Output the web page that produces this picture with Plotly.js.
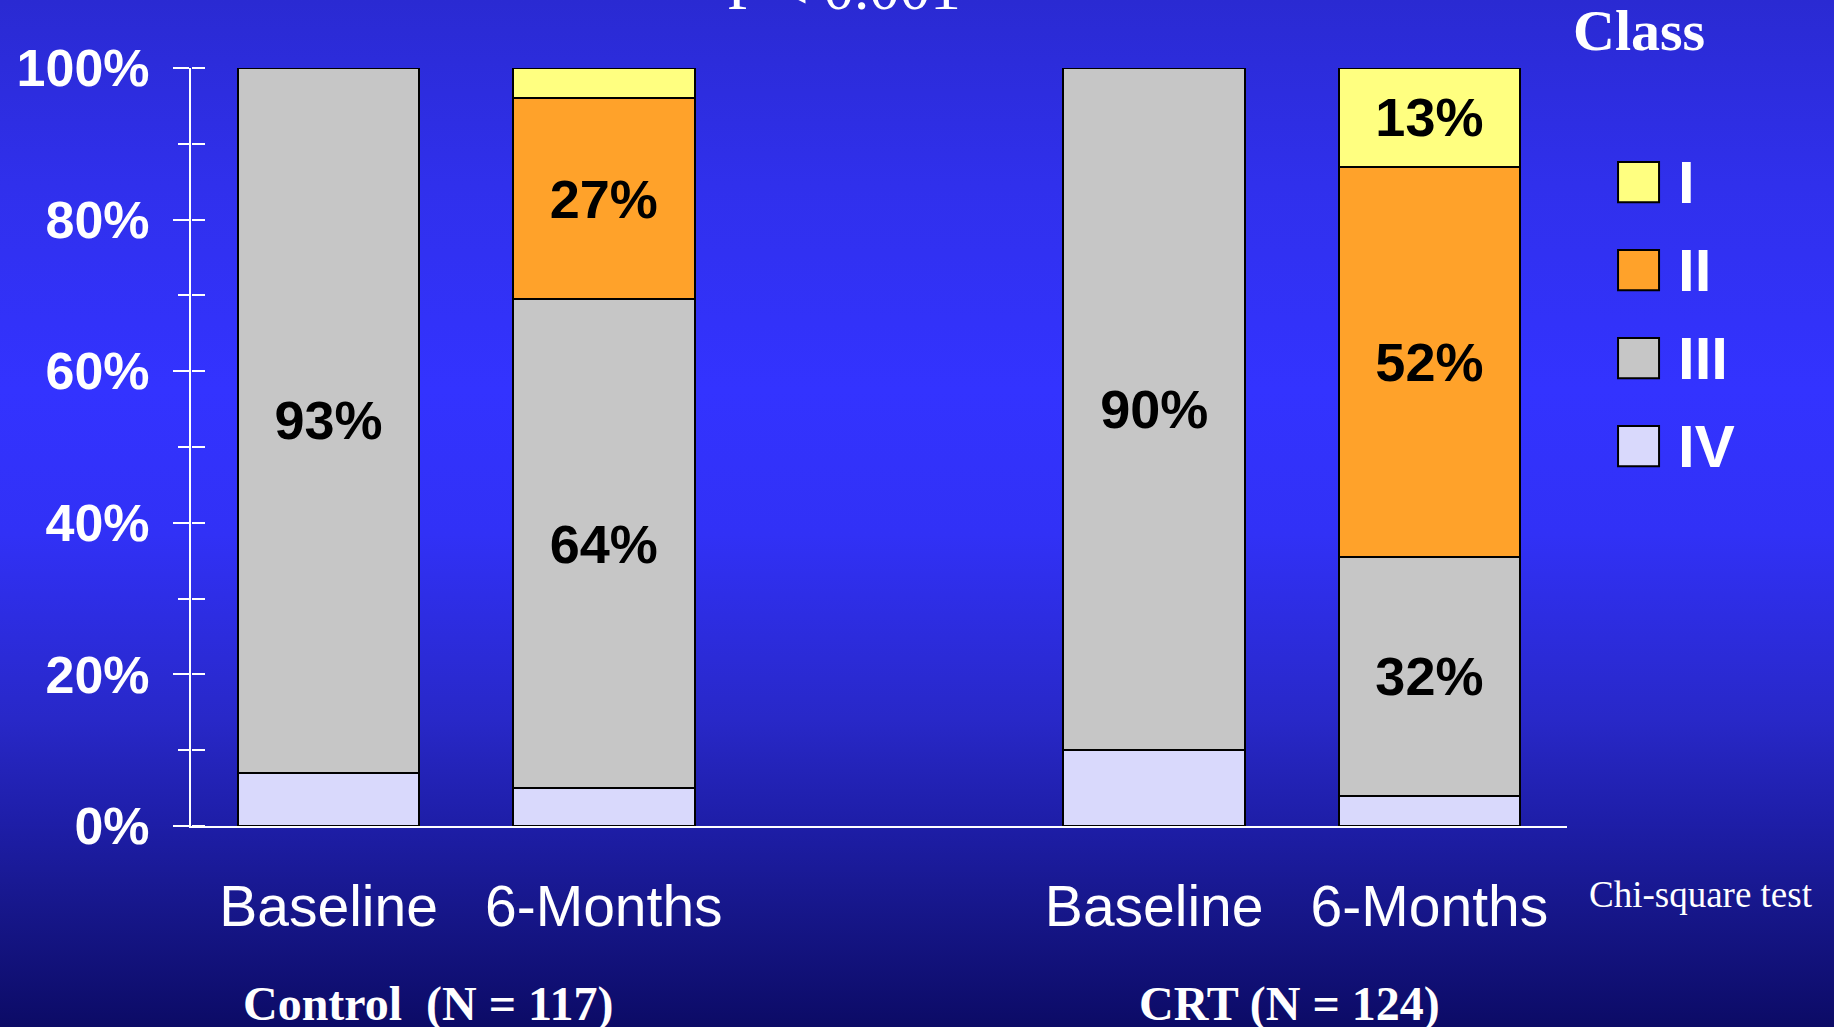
<!DOCTYPE html>
<html>
<head>
<meta charset="utf-8">
<script src="https://cdn.plot.ly/plotly-3.0.1.min.js"></script>
<style>
  html, body { margin: 0; padding: 0; }
  body {
    width: 1834px; height: 1027px; overflow: hidden;
    background: linear-gradient(to bottom, #2a2ad2 0%, #3030ec 18%, #3333ff 38%, #3131f6 52%, #2828c8 70%, #1e1ea8 80%, #17178c 88%, #0c0b66 100%);
  }
  #chart { width: 1834px; height: 1027px; }
</style>
</head>
<body>
<div id="chart"></div>
<script>
// ---- data ----
const groups = ['Control  (N = 117)', 'CRT (N = 124)'];
const timepoints = ['Baseline', '6-Months'];
const categories = ['Baseline', '6-Months', 'Baseline', '6-Months'];
const seriesNames = ['IV', 'III', 'II', 'I'];
const classIV  = [7, 5, 10, 4];
const classIII = [93, 64.5, 90, 31.5];
const classII  = [0, 26.5, 0, 51.5];
const classI   = [0, 4, 0, 13];
const labelsIV  = ['', '', '', ''];
const labelsIII = ['93%', '64%', '90%', '32%'];
const labelsII  = ['', '27%', '', '52%'];
const labelsI   = ['', '', '', '13%'];
const yTickVals = [0, 20, 40, 60, 80, 100];
const yTickText = ['0%', '20%', '40%', '60%', '80%', '100%'];

// ---- styling ----
const colors = { 'IV': '#d9d9fc', 'III': '#c6c6c6', 'II': '#ffa22a', 'I': '#ffff80' };
const seriesValues = { 'IV': classIV, 'III': classIII, 'II': classII, 'I': classI };
const seriesLabels = { 'IV': labelsIV, 'III': labelsIII, 'II': labelsII, 'I': labelsI };

// x positions: groups separated by an empty slot
const xPos = categories.map((c, i) => Math.floor(i / timepoints.length) * (timepoints.length + 1) + (i % timepoints.length));

const traces = seriesNames.map(name => ({
  type: 'bar',
  name: name,
  x: xPos,
  y: seriesValues[name],
  text: seriesLabels[name],
  textposition: 'inside',
  insidetextanchor: 'middle',
  textangle: 0,
  constraintext: 'none',
  textfont: { family: 'Liberation Sans, Arial, sans-serif', size: 54, color: '#000000', weight: 'bold' },
  width: 0.66,
  marker: { color: colors[name], line: { color: '#000000', width: 2 } },
  hoverinfo: 'none',
  showlegend: false
}));
// empty helper trace so the inner tick axis is drawn
traces.push({ type: 'scatter', x: [null], y: [null], yaxis: 'y2', mode: 'markers', showlegend: false, hoverinfo: 'none' });

// custom legend (top = class I)
const shapes = [];
const annotations = [];
const legendOrder = seriesNames.slice().reverse();
legendOrder.forEach((name, i) => {
  const yTop = 0.876 - i * 0.1161;
  shapes.push({
    type: 'rect', xref: 'paper', yref: 'paper',
    x0: 1.0371, x1: 1.0669, y0: yTop - 0.053, y1: yTop,
    fillcolor: colors[name], line: { color: '#000000', width: 2 }
  });
  annotations.push({
    xref: 'paper', yref: 'paper', x: 1.0790, y: yTop - 0.0265,
    xanchor: 'left', yanchor: 'middle', showarrow: false,
    text: name,
    font: { family: 'Liberation Sans, Arial, sans-serif', size: 60, color: '#ffffff', weight: 'bold' }
  });
});

annotations.push({
  xref: 'paper', yref: 'paper', x: 1.0523, y: 1.050, xanchor: 'center', yanchor: 'middle',
  showarrow: false, text: 'Class',
  font: { family: 'Liberation Serif, Times New Roman, serif', size: 58, color: '#ffffff', weight: 'bold' }
});
annotations.push({
  xref: 'paper', yref: 'paper', x: 0.4746, y: 1.1055, xanchor: 'center', yanchor: 'middle',
  showarrow: false, text: 'P < 0.001',
  font: { family: 'Liberation Serif, Times New Roman, serif', size: 61, color: '#ffffff' }
});
annotations.push({
  xref: 'paper', yref: 'paper', x: 1.0974, y: -0.091, xanchor: 'center', yanchor: 'middle',
  showarrow: false, text: 'Chi-square test',
  font: { family: 'Liberation Serif, Times New Roman, serif', size: 37, color: '#ffffff' }
});
const groupLabelX = [0.1722, 0.798];
groups.forEach((g, i) => {
  annotations.push({
    xref: 'paper', yref: 'paper', x: groupLabelX[i], y: -0.235, xanchor: 'center', yanchor: 'middle',
    showarrow: false, text: g,
    font: { family: 'Liberation Serif, Times New Roman, serif', size: 48, color: '#ffffff', weight: 'bold' }
  });
});

const layout = {
  width: 1834, height: 1027,
  margin: { l: 191, r: 267, t: 68, b: 201 },
  paper_bgcolor: 'rgba(0,0,0,0)',
  plot_bgcolor: 'rgba(0,0,0,0)',
  barmode: 'stack',
  showlegend: false,
  xaxis: {
    range: [-0.5, 4.5],
    tickvals: xPos, ticktext: categories,
    showgrid: false, zeroline: false,
    showline: true, linecolor: '#ffffff', linewidth: 2,
    ticks: '', ticklabelstandoff: 30,
    tickfont: { family: 'Liberation Sans, Arial, sans-serif', size: 57, color: '#ffffff' }
  },
  yaxis: {
    range: [0, 100],
    tickvals: yTickVals, ticktext: yTickText,
    showgrid: false, zeroline: false,
    showline: true, linecolor: '#ffffff', linewidth: 2,
    ticks: 'outside', ticklen: 16, tickwidth: 2, tickcolor: '#ffffff',
    minor: { ticks: 'outside', ticklen: 11, dtick: 10, tickwidth: 2, tickcolor: '#ffffff', showgrid: false },
    ticklabelstandoff: 13,
    tickfont: { family: 'Liberation Sans, Arial, sans-serif', size: 52, color: '#ffffff', weight: 'bold' }
  },
  yaxis2: {
    overlaying: 'y', side: 'right', anchor: 'free', position: 0,
    range: [0, 100], dtick: 10, showgrid: false, zeroline: false,
    showticklabels: false, showline: false,
    ticks: 'outside', ticklen: 13, tickwidth: 2, tickcolor: '#ffffff'
  },
  shapes: shapes,
  annotations: annotations
};

Plotly.newPlot('chart', traces, layout, { displayModeBar: false, staticPlot: true });
</script>
</body>
</html>
